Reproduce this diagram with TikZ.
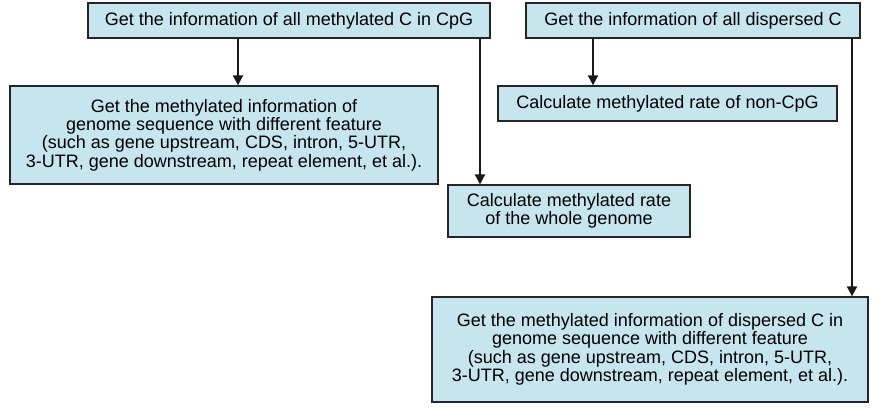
\documentclass[tikz,border=0pt]{standalone}
\usepackage{fontspec}
\setmainfont{Liberation Sans}
\usetikzlibrary{arrows.meta}
\definecolor{boxblue}{RGB}{198,229,238}
\tikzset{
  stepbox/.style={draw=black!85,line width=1.3pt,fill=boxblue,align=center,
    inner sep=0pt,font=\fontsize{18}{18.4}\selectfont},
  flow/.style={-{Triangle[length=10pt,width=10pt]},line width=2pt,black!90}
}
\begin{document}
\begin{tikzpicture}[x=1pt,y=-1pt]
    \useasboundingbox (0,0) rectangle (875,409);
    \node[stepbox,minimum width=402pt,minimum height=35pt] (cpg) at (289,20.5) {Get the information of all methylated C in CpG};
    \node[stepbox,minimum width=334pt,minimum height=35pt] (disp) at (693,20.5) {Get the information of all dispersed C};
    \node[stepbox,minimum width=428pt,minimum height=98pt] (feat1) at (224,135) {Get the methylated information of\\genome sequence with different feature\\(such as gene upstream, CDS, intron, 5-UTR,\\3-UTR, gene downstream, repeat element, et al.).};
    \node[stepbox,minimum width=339pt,minimum height=35pt] (noncpg) at (667.5,103.5) {Calculate methylated rate of non-CpG};
    \node[stepbox,minimum width=242pt,minimum height=52pt] (whole) at (569,211) {Calculate methylated rate\\of the whole genome};
    \node[stepbox,minimum width=436pt,minimum height=105pt] (feat2) at (650,349.5) {Get the methylated information of dispersed C in\\genome sequence with different feature\\(such as gene upstream, CDS, intron, 5-UTR,\\3-UTR, gene downstream, repeat element, et al.).};
    \draw[flow] (cpg.south -| 238,0) -- (feat1.north -| 238,0);
    \draw[flow] (cpg.south -| 480,0) -- (whole.north -| 480,0);
    \draw[flow] (disp.south -| 593,0) -- (noncpg.north -| 593,0);
    \draw[flow] (disp.south -| 852,0) -- (feat2.north -| 852,0);
\end{tikzpicture}
\end{document}
